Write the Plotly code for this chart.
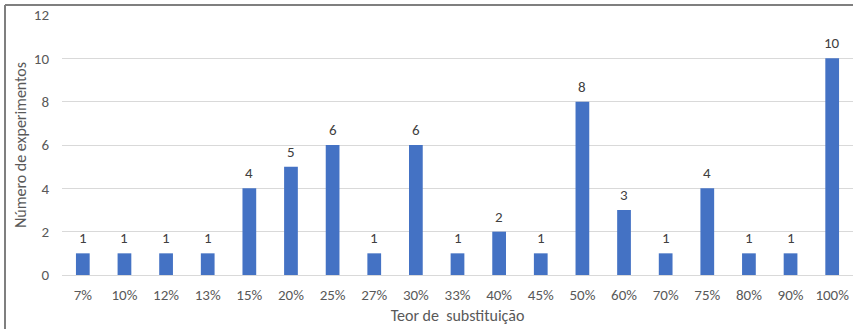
import plotly.graph_objects as go

categories = ["7%", "10%", "12%", "13%", "15%", "20%", "25%", "27%", "30%", "33%",
              "40%", "45%", "50%", "60%", "70%", "75%", "80%", "90%", "100%"]
counts = [1, 1, 1, 1, 4, 5, 6, 1, 6, 1, 2, 1, 8, 3, 1, 4, 1, 1, 10]

W, H = 853, 329
L, R, T, B = 62, 0, 15, 54
pw, ph = W - L - R, H - T - B

def px(x):
    return (x - L) / pw

def py(y):
    return (H - B - y) / ph

font = "Carlito, Calibri, Lato, sans-serif"

fig = go.Figure(go.Bar(
    x=categories, y=counts,
    marker=dict(color="#4472C4", line=dict(width=0)),
    cliponaxis=False,
))

for c, v in zip(categories, counts):
    fig.add_annotation(x=c, y=v, text=str(v), showarrow=False,
                       yanchor="bottom", yshift=4,
                       font=dict(color="#404040", size=15, family=font))

fig.update_layout(
    width=W, height=H,
    margin=dict(l=L, r=R, t=T, b=B),
    paper_bgcolor="white", plot_bgcolor="white",
    bargap=0.67,
    showlegend=False,
    font=dict(family=font, color="#595959", size=15),
    xaxis=dict(
        title=dict(text="Teor de  substituição", font=dict(size=16, color="#595959"), standoff=6),
        tickfont=dict(size=15, color="#595959"),
        showgrid=False, showline=False, ticks="",
        ticklabelstandoff=9,
    ),
    yaxis=dict(
        title=dict(text="Número de experimentos", font=dict(size=16, color="#595959"), standoff=3),
        range=[0, 12], dtick=2,
        tickfont=dict(size=15, color="#595959"),
        showgrid=True, gridcolor="#d9d9d9", gridwidth=1,
        zeroline=True, zerolinecolor="#d9d9d9", zerolinewidth=1,
        ticks="", ticklabelstandoff=12,
    ),
    shapes=[
        dict(type="line", xref="paper", yref="paper",
             x0=px(5), x1=px(5), y0=py(5), y1=py(H + 5),
             line=dict(color="#7f7f7f", width=2)),
        dict(type="line", xref="paper", yref="paper",
             x0=px(5), x1=px(W + 5), y0=py(5), y1=py(5),
             line=dict(color="#7f7f7f", width=2)),
    ],
)

fig.write_html("out.html")
